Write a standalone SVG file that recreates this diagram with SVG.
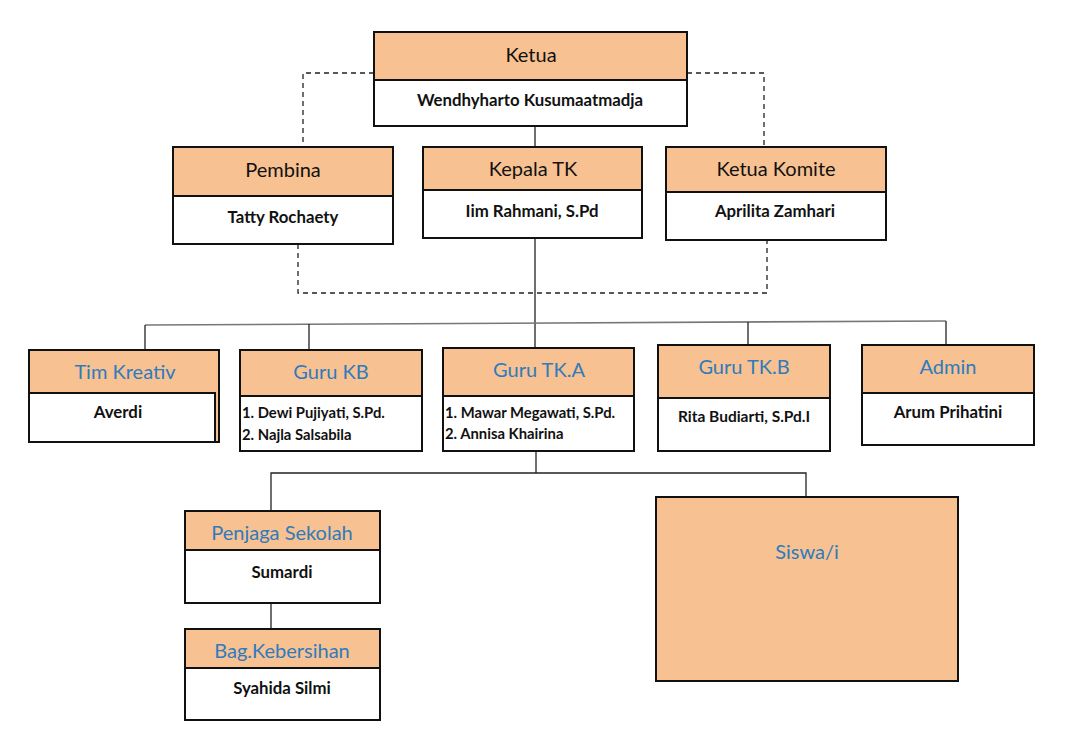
<svg xmlns="http://www.w3.org/2000/svg" width="1079" height="738" viewBox="0 0 1079 738">
<style>
.hd{fill:#F8C191;stroke:#111;stroke-width:2}
.bd{fill:#fff;stroke:#111;stroke-width:2}
.t1{font-family:Lato,"Liberation Sans",sans-serif;font-size:20px;fill:#111;text-anchor:middle}
.t2{font-family:Lato,"Liberation Sans",sans-serif;font-size:20px;fill:#2E7BBE;text-anchor:middle}
.nm{font-family:Lato,"Liberation Sans",sans-serif;font-size:16.8px;font-weight:bold;fill:#111;text-anchor:middle}
.ls{font-family:Lato,"Liberation Sans",sans-serif;font-size:14.8px;font-weight:bold;fill:#111}
.ln{fill:none;stroke:#222;stroke-width:1.3}
.gl{fill:none;stroke:#777;stroke-width:1.6}
.ds{fill:none;stroke:#222;stroke-width:1.3;stroke-dasharray:5 4}
</style>
<rect width="1079" height="738" fill="#fff"/>
<g id="connectors">
<polyline class="ds" points="374,73 303,73 303,147"/>
<polyline class="ds" points="687,73 764,73 764,147"/>
<polyline class="ds" points="298,244 298,293 767,293 767,240"/>
<line class="ln" x1="535" y1="126" x2="535" y2="147"/>
<line class="ln" x1="535" y1="238" x2="535" y2="348"/>
<line class="gl" x1="145" y1="325" x2="946" y2="321"/>
<line class="ln" x1="145" y1="325" x2="145" y2="350"/>
<line class="ln" x1="309" y1="324" x2="309" y2="350"/>
<line class="ln" x1="748" y1="322" x2="748" y2="345"/>
<line class="ln" x1="946" y1="321" x2="946" y2="345"/>
<line class="ln" x1="536" y1="451" x2="536" y2="473"/>
<polyline class="ln" points="271,511 271,473 806,473 806,497"/>
<line class="ln" x1="271" y1="603" x2="271" y2="629"/>
</g>
<g id="ketua">
<rect class="hd" x="374" y="32" width="313" height="48"/>
<rect class="bd" x="374" y="80" width="313" height="46"/>
<text class="t1" x="531" y="62">Ketua</text>
<text class="nm" x="530" y="106">Wendhyharto Kusumaatmadja</text>
</g>
<g id="pembina">
<rect class="hd" x="173" y="147" width="220" height="49"/>
<rect class="bd" x="173" y="196" width="220" height="48"/>
<text class="t1" x="283" y="177">Pembina</text>
<text class="nm" x="283" y="223">Tatty Rochaety</text>
</g>
<g id="kepala">
<rect class="hd" x="423" y="147" width="219" height="43"/>
<rect class="bd" x="423" y="190" width="219" height="48"/>
<text class="t1" x="533" y="176">Kepala TK</text>
<text class="nm" x="532" y="217">Iim Rahmani, S.Pd</text>
</g>
<g id="komite">
<rect class="hd" x="666" y="147" width="220" height="45"/>
<rect class="bd" x="666" y="192" width="220" height="48"/>
<text class="t1" x="776" y="176">Ketua Komite</text>
<text class="nm" x="775" y="217">Aprilita Zamhari</text>
</g>
<g id="timkreativ">
<rect class="hd" x="29" y="350" width="190" height="92"/>
<rect class="bd" x="29" y="393" width="186" height="49"/>
<text class="t2" x="125" y="379">Tim Kreativ</text>
<text class="nm" x="118" y="418">Averdi</text>
</g>
<g id="gurukb">
<rect class="hd" x="240" y="350" width="182" height="46"/>
<rect class="bd" x="240" y="396" width="182" height="55"/>
<text class="t2" x="331" y="379">Guru KB</text>
<text class="ls" x="242" y="418">1. Dewi Pujiyati, S.Pd.</text>
<text class="ls" x="242" y="440">2. Najla Salsabila</text>
</g>
<g id="gurutka">
<rect class="hd" x="443" y="348" width="191" height="48"/>
<rect class="bd" x="443" y="396" width="191" height="55"/>
<text class="t2" x="539" y="377">Guru TK.A</text>
<text class="ls" x="445" y="418">1. Mawar Megawati, S.Pd.</text>
<text class="ls" x="445" y="439">2. Annisa Khairina</text>
</g>
<g id="gurutkb">
<rect class="hd" x="658" y="345" width="172" height="53"/>
<rect class="bd" x="658" y="398" width="172" height="53"/>
<text class="t2" x="744" y="374">Guru TK.B</text>
<text class="nm" x="744" y="422" style="font-size:15.5px">Rita Budiarti, S.Pd.I</text>
</g>
<g id="admin">
<rect class="hd" x="862" y="345" width="172" height="48"/>
<rect class="bd" x="862" y="393" width="172" height="52"/>
<text class="t2" x="948" y="374">Admin</text>
<text class="nm" x="948" y="418">Arum Prihatini</text>
</g>
<g id="penjaga">
<rect class="hd" x="185" y="511" width="195" height="39"/>
<rect class="bd" x="185" y="550" width="195" height="53"/>
<text class="t2" x="282" y="540">Penjaga Sekolah</text>
<text class="nm" x="282" y="578">Sumardi</text>
</g>
<g id="kebersihan">
<rect class="hd" x="185" y="629" width="195" height="39"/>
<rect class="bd" x="185" y="668" width="195" height="52"/>
<text class="t2" x="282" y="658">Bag.Kebersihan</text>
<text class="nm" x="282" y="694">Syahida Silmi</text>
</g>
<g id="siswa">
<rect class="hd" x="656" y="497" width="302" height="184"/>
<text class="t2" x="807" y="559">Siswa/i</text>
</g>
</svg>
